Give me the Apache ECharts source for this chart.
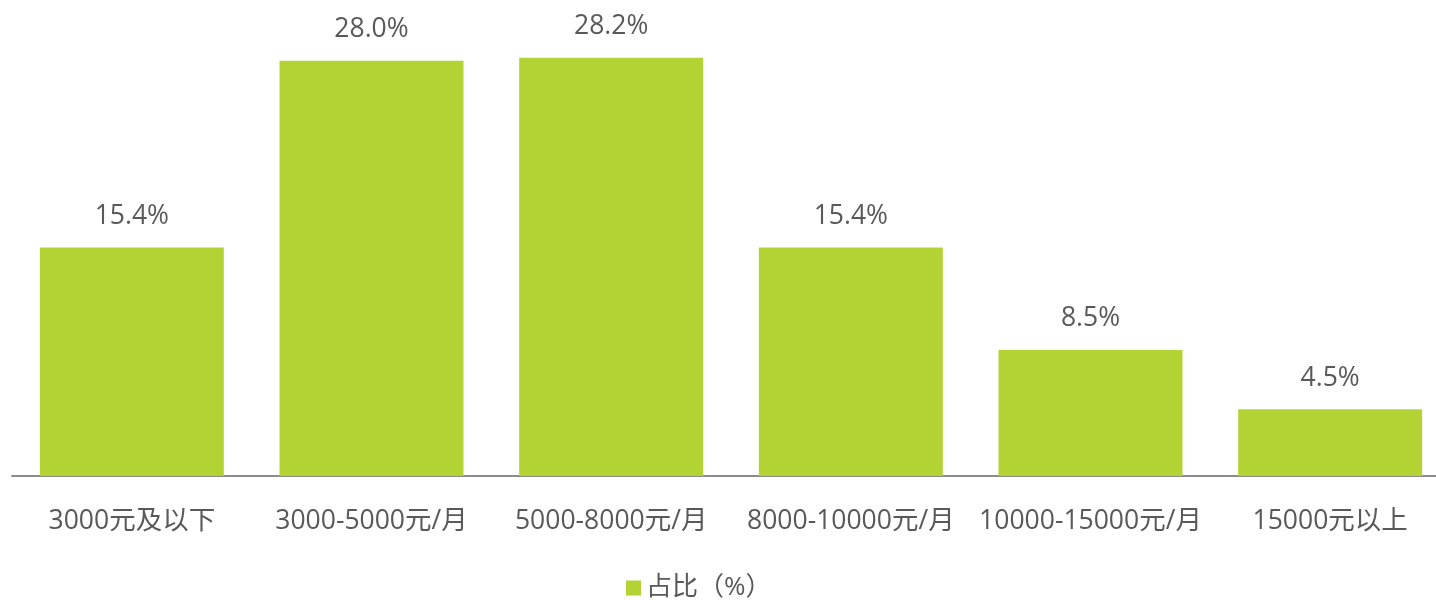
<!DOCTYPE html>
<html><head><meta charset="utf-8">
<script src="https://cdn.jsdelivr.net/npm/echarts@6/dist/echarts.min.js"></script>
<style>html,body{margin:0;padding:0;background:#fff;overflow:hidden}#c{width:1452px;height:600px}</style>
</head><body><div id="c"></div>
<script>
var categories = ['3000元及以下','3000-5000元/月','5000-8000元/月','8000-10000元/月','10000-15000元/月','15000元以上'];
var values = [15.4, 28.0, 28.2, 15.4, 8.5, 4.5];
var seriesName = '占比（%）';
var FONT = '"Open Sans","Noto Sans CJK SC",sans-serif';
var chart = echarts.init(document.getElementById('c'));
chart.setOption({
  animation: false,
  textStyle: {fontFamily: FONT},
  grid: {left: 12, top: 31, right: 2, bottom: 124, containLabel: false},
  legend: {
    top: 570, left: 621, itemWidth: 15, itemHeight: 15, icon: 'rect',
    textStyle: {color: '#595959', fontSize: 26, fontFamily: FONT}
  },
  xAxis: {
    type: 'category', data: categories,
    axisLine: {lineStyle: {color: '#8c8c8c', width: 2}},
    axisTick: {show: false},
    axisLabel: {color: '#595959', fontSize: 26.5, margin: 32, interval: 0, fontFamily: FONT}
  },
  yAxis: {type: 'value', min: 0, max: 30, show: false, splitLine: {show: false}},
  series: [{
    name: seriesName, type: 'bar', data: values, barWidth: 184,
    itemStyle: {color: '#B3D335'},
    label: {show: true, position: 'top', distance: 18, color: '#595959', fontSize: 26.5, fontFamily: FONT,
      formatter: function(p){ return p.value.toFixed(1) + '%'; }}
  }]
});
</script></body></html>
